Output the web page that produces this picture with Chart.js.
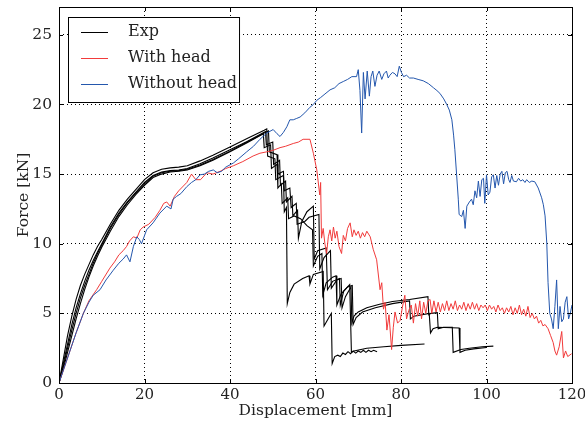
<!DOCTYPE html>
<html>
<head>
<meta charset="utf-8">
<script src="https://cdn.jsdelivr.net/npm/chart.js@4.4.1/dist/chart.umd.min.js"></script>
<style>
  html, body { margin: 0; padding: 0; background: #fff; }
</style>
</head>
<body>
<canvas id="forceChart" width="585" height="426"></canvas>
<script>
// axis ticks
var xTicks = [0, 20, 40, 60, 80, 100, 120];
var yTicks = [0, 5, 10, 15, 20, 25];

// experimental specimens [displacement mm, force kN]
var expA = [[0,0],[1,1.7],[2,3.4],[3,4.8],[4,6.0],[5,7.0],[6,7.8],[7,8.5],[8,9.2],[9,9.8],[10,10.3],[12,11.4],[14,12.4],[16,13.2],[18,13.9],[20,14.6],[22,15.1],[24,15.35],[26,15.45],[28,15.5],[30,15.6],[33,15.95],[36,16.35],[40,16.95],[44,17.55],[48,18.15],[48.6,18.25],
  [48.8,16.3],[50.5,16.1],[50.7,14.6],[52.5,14.9],[52.7,12.3],[53.2,12.6],[53.4,5.7],[54,6.5],[55,7.1],[57,7.5],[58.5,7.7],[58.7,7.1],[59.5,7.8],[61.8,8.0],[62,4.1],[63.3,4.8],[63.7,5.0],[63.9,1.4],[64.5,1.9],[65.2,2.0],[65.8,1.9],[66.4,2.15],[67,2.05],[67.6,2.25],[68.2,2.1],[68.8,2.3],[69.4,2.15],[70,2.3],[70.6,2.2],[71.2,2.35],[71.8,2.2],[72.4,2.35],[73,2.25],[73.6,2.35],[74.4,2.25]];
var expB = [[0,0],[1,1.4],[2,2.8],[3,4.2],[4,5.4],[5,6.4],[6,7.3],[7,8.1],[8,8.8],[9,9.4],[10,10.0],[12,11.2],[14,12.2],[16,13.0],[18,13.7],[20,14.4],[22,14.9],[24,15.15],[26,15.25],[28,15.3],[30,15.4],[33,15.75],[36,16.15],[40,16.75],[44,17.35],[48,18.0],[48.3,18.05],
  [48.5,17.1],[50,17.3],[50.2,15.7],[51.6,16.0],[51.8,14.2],[53,14.5],[53.2,13.0],[54.5,13.4],[54.7,12.0],[55.8,12.4],[56,10.4],[56.8,11.6],[58,12.3],[59.5,12.7],[59.7,8.9],[60.5,9.5],[62.5,9.7],[62.8,6.7],[64,7.3],[65.6,7.5],[65.8,5.6],[66.6,6.6],[68,7.06],[68.4,2.2],[69,2.3],[72,2.5],[76,2.6],[80,2.7],[85.5,2.8]];
var expC = [[0,0],[1,1.2],[2,2.5],[3,3.8],[4,5.0],[5,6.1],[6,7.0],[7,7.8],[8,8.6],[9,9.3],[10,9.9],[12,11.1],[14,12.1],[16,12.95],[18,13.65],[20,14.3],[22,14.85],[24,15.1],[26,15.2],[28,15.25],[30,15.35],[33,15.65],[36,16.05],[40,16.65],[44,17.3],[48,17.95],[49,18.1],
  [49.2,16.6],[51,16.4],[51.2,15.0],[52.5,15.2],[52.7,13.8],[54,14.0],[54.3,12.6],[55.5,12.9],[55.7,11.4],[57.5,11.6],[58.5,11.9],[60.8,12.1],[61,8.2],[62,9.0],[63.5,9.5],[63.7,6.8],[65,7.4],[66,7.5],[66.2,5.4],[67,6.2],[68.3,6.9],[68.5,4.3],[69,4.8],[70,5.1],[72,5.4],[75,5.65],[78,5.85],[82,6.0],[86.3,6.2],[86.5,4.9],[87,5.0],[88.5,5.05],[88.7,3.9],[90,4.0],[92,4.0],[92.2,2.2],[94,2.4],[96,2.5],[99,2.6],[101.6,2.65]];
var expD = [[0,0],[1,1.0],[2,2.2],[3,3.4],[4,4.6],[5,5.7],[6,6.7],[7,7.6],[8,8.4],[9,9.1],[10,9.75],[12,10.9],[14,11.95],[16,12.8],[18,13.55],[20,14.2],[22,14.75],[24,15.0],[26,15.15],[28,15.2],[30,15.3],[33,15.6],[36,16.0],[40,16.6],[44,17.25],[47.8,17.9],
  [48,16.9],[49.5,17.1],[49.7,15.4],[51,15.7],[51.2,14.0],[52,14.3],[52.2,12.9],[53.5,13.3],[53.7,11.8],[55,12.0],[56.5,11.8],[58,11.3],[59.3,11.0],[59.5,8.4],[60.5,9.1],[61.5,9.3],[61.7,6.3],[62.5,7.2],[64,7.6],[64.8,7.7],[65,5.6],[66,6.4],[67.5,6.9],[68.6,7.0],[68.8,4.2],[69.5,4.7],[71,5.1],[74,5.4],[78,5.7],[82,5.9],[82.2,4.6],[83,4.8],[86.6,5.0],[86.9,3.6],[87.5,3.9],[88.5,4.0],[93.6,3.95],[93.8,2.2],[95,2.35],[97,2.45],[100,2.55]];

// simulation with head
var withHead = [[0,0],[2,1.8],[4,3.6],[5.7,5.0],[7,5.9],[8.8,6.7],[10,7.3],[11.9,8.25],[13,8.7],[14,9.2],[15,9.5],[15.8,9.8],[16.5,10.2],[17.4,10.5],[18.2,10.4],[19,11.0],[19.7,11.2],[21,11.4],[22.5,11.9],[23.6,12.4],[24.5,12.9],[25.2,13.0],[26,12.7],[27,13.4],[28,13.8],[29.9,14.4],[31,15.0],[32,14.6],[33.1,14.6],[34.6,15.1],[36,15.0],[37.7,15.2],[39,15.4],[40.8,15.6],[43,15.9],[45.4,16.3],[47,16.5],[48.6,16.6],[50,16.7],[51.7,16.9],[53,17.0],[54.8,17.2],[56,17.3],[57.1,17.5],[58.7,17.5],[59.5,16.5],[60.3,15.3],[61,13.5],[61.2,14.4],[61.4,10.4],[61.8,11.1],[62.2,10.0],[62.6,9.3],[63,10.5],[63.4,11.0],[63.8,10.2],[64.2,11.2],[64.6,10.4],[65,10.9],[65.5,9.8],[66.1,9.3],[66.5,10.6],[67,10.2],[67.5,11.1],[68.1,11.5],[68.6,10.5],[69,11.0],[69.5,10.6],[70,10.9],[70.5,10.4],[71,10.8],[71.5,10.5],[72,10.9],[72.8,10.5],[73.5,9.6],[74.3,8.85],[75.1,6.7],[75.5,7.2],[75.9,5.3],[76.3,5.8],[76.7,3.8],[77.2,4.9],[77.8,2.4],[78.2,4.0],[78.6,5.1],[79.2,4.3],[79.8,4.5],[80.3,5.4],[80.9,6.3],[81.3,4.6],[81.8,5.2],[82.4,5.6],[82.9,4.3],[83.4,5.7],[83.9,4.8],[84.4,5.9],[84.8,4.6],[85.3,5.8],[85.8,5.0],[86.3,5.9],[86.8,6.0],[87.2,5.0],[87.7,5.9],[88.2,5.1],[88.7,5.8],[89.2,5.1],[89.7,5.7],[90.2,5.2],[90.7,5.9],[91.2,5.2],[91.7,5.7],[92.2,5.3],[92.7,5.9],[93.2,5.2],[93.7,5.6],[94.2,5.3],[94.7,5.8],[95.2,5.2],[95.7,5.7],[96.2,5.3],[96.7,5.8],[97.2,5.3],[97.7,5.7],[98.2,5.2],[98.7,5.6],[99.2,5.4],[99.7,5.6],[100.2,5.2],[100.7,5.6],[101.2,5.3],[101.7,5.5],[102.2,5.1],[102.7,5.6],[103.2,5.2],[103.7,5.4],[104.2,5.0],[104.7,5.4],[105.2,5.1],[105.7,5.5],[106.2,4.9],[106.7,5.4],[107.2,5.0],[107.7,5.6],[108.2,4.9],[108.7,5.3],[109.2,4.8],[109.7,5.5],[110.2,4.7],[110.7,5.0],[111.2,4.6],[111.7,4.8],[112.2,4.3],[112.7,4.5],[113.2,4.1],[113.7,4.2],[114.4,3.9],[115,3.4],[115.6,2.9],[116,2.3],[116.4,2.0],[117,2.6],[117.6,3.7],[118,1.8],[118.5,2.3],[119,1.9],[119.9,2.1]];

// simulation without head
var withoutHead = [[0,0],[2,1.8],[4,3.6],[5.7,5.0],[7,5.8],[8,6.3],[9.6,6.7],[11,7.4],[12.7,8.1],[14,8.6],[15,8.9],[15.8,9.2],[16.6,8.7],[17.4,9.8],[18.2,10.5],[18.8,10.3],[19.3,10.0],[20.5,11.0],[22,11.5],[23.6,12.2],[25.2,12.7],[26.2,12.5],[26.7,13.2],[27.5,13.4],[28.5,13.6],[29.9,14.1],[31,14.4],[32,14.6],[33,14.95],[34,15.0],[35,15.2],[36.1,15.3],[37,15.1],[38,15.2],[39,15.5],[40.8,15.8],[42,16.1],[43.9,16.6],[45.5,17.0],[47,17.5],[48.6,17.95],[50.1,18.2],[51,17.9],[51.7,17.7],[52.5,18.0],[53.3,18.4],[54,18.9],[54.8,18.9],[55.6,19.0],[56.4,19.1],[57.5,19.4],[58.7,19.8],[59.5,20.0],[60.3,20.3],[61.2,20.5],[62,20.7],[63.4,21.05],[64.5,21.2],[65.5,21.5],[66.5,21.65],[67.5,21.8],[68.5,22.0],[69.6,22.0],[70.0,22.5],[70.4,21.0],[70.8,17.95],[71.2,22.3],[71.6,20.4],[72.1,22.4],[72.6,20.6],[73.0,22.0],[73.4,22.4],[73.9,21.3],[74.4,22.1],[74.9,22.4],[75.5,21.8],[76.0,22.2],[76.6,22.4],[77.0,21.9],[77.4,22.1],[78.0,22.3],[78.6,22.2],[79.1,22.0],[79.6,22.75],[80.1,22.3],[80.6,22.0],[81.3,22.1],[82.0,21.9],[82.9,21.9],[84.0,21.8],[85.2,21.7],[86.4,21.5],[87.6,21.2],[88.4,21.0],[89.1,20.8],[90.0,20.4],[90.7,20.0],[91.3,19.6],[91.9,18.9],[92.3,17.8],[92.6,16.75],[93.0,15.0],[93.4,13.2],[93.6,12.1],[94.2,11.95],[94.6,12.4],[95.0,11.1],[95.4,12.7],[96.0,13.0],[96.5,13.2],[96.9,12.8],[97.3,13.8],[97.7,13.3],[98.1,14.5],[98.5,13.4],[98.9,14.6],[99.3,14.7],[99.6,12.9],[100.0,14.95],[100.4,13.5],[100.8,13.7],[101.2,14.8],[101.6,14.95],[102.0,14.0],[102.4,14.9],[102.8,14.2],[103.2,15.0],[103.6,15.2],[104.0,14.3],[104.4,15.1],[104.8,15.2],[105.2,14.6],[105.5,14.4],[105.9,14.9],[106.3,14.5],[107.0,14.45],[107.5,14.7],[108.0,14.5],[108.5,14.6],[109.0,14.4],[109.4,14.6],[110.0,14.4],[110.6,14.5],[111.3,14.45],[112.1,14.0],[112.9,13.3],[113.3,12.8],[113.7,12.0],[114.1,10.05],[114.4,7.2],[114.8,5.0],[115.2,4.6],[115.6,3.9],[116.0,5.5],[116.4,7.4],[116.8,3.9],[117.2,5.5],[117.6,4.4],[118.0,4.6],[118.4,5.8],[118.8,6.2],[119.2,4.6],[119.6,5.0],[120,5.6]];

var FONT = 'DejaVu Serif';
var TEXT_COLOR = '#222';

function toPoints(arr) {
    return arr.map(function (p) { return {x: p[0], y: p[1]}; });
}

function lineSet(label, arr, color, width, order, inLegend) {
    return {
        label: label,
        data: toPoints(arr),
        borderColor: color,
        backgroundColor: color,
        borderWidth: width,
        pointRadius: 0,
        tension: 0,
        fill: false,
        order: order,
        inLegend: inLegend
    };
}

var tickSet = function (vals) {
    return function (scale) {
        scale.ticks = vals.map(function (v) { return {value: v}; });
    };
};

// matplotlib-style legend box in the upper left of the plot
var boxLegend = {
    id: 'boxLegend',
    afterDraw: function (chart) {
        var ctx = chart.ctx;
        var area = chart.chartArea;
        var items = chart.data.datasets.filter(function (d) { return d.inLegend; });
        ctx.save();
        ctx.font = '16px "' + FONT + '"';
        var left = area.left + 9, top = area.top + 10;
        var textX = left + 60;
        var widest = 0;
        items.forEach(function (d) { widest = Math.max(widest, ctx.measureText(d.label).width); });
        var w = textX + widest + 2 - left, h = 85;
        ctx.fillStyle = '#fff';
        ctx.fillRect(left, top, w, h);
        ctx.strokeStyle = '#000';
        ctx.lineWidth = 1;
        ctx.strokeRect(left + 0.5, top + 0.5, w, h);
        items.forEach(function (d, i) {
            var y = top + 15 + i * 26;
            ctx.strokeStyle = d.borderColor;
            ctx.beginPath();
            ctx.moveTo(left + 13, y + 0.5);
            ctx.lineTo(left + 40, y + 0.5);
            ctx.stroke();
            ctx.fillStyle = TEXT_COLOR;
            ctx.textBaseline = 'middle';
            ctx.fillText(d.label, textX, y);
        });
        ctx.restore();
    }
};

// full frame with inward tick marks on all sides
var frame = {
    id: 'frame',
    afterDatasetsDraw: function (chart) {
        var ctx = chart.ctx;
        var a = chart.chartArea;
        var xs = chart.scales.x, ys = chart.scales.y;
        ctx.save();
        ctx.strokeStyle = '#000';
        ctx.lineWidth = 1;
        ctx.strokeRect(Math.round(a.left) + 0.5, Math.round(a.top) + 0.5, Math.round(a.right - a.left), Math.round(a.bottom - a.top));
        ctx.beginPath();
        xTicks.forEach(function (v) {
            var px = Math.round(xs.getPixelForValue(v)) + 0.5;
            ctx.moveTo(px, a.bottom); ctx.lineTo(px, a.bottom - 4);
            ctx.moveTo(px, a.top); ctx.lineTo(px, a.top + 4);
        });
        yTicks.forEach(function (v) {
            var py = Math.round(ys.getPixelForValue(v)) + 0.5;
            ctx.moveTo(a.left, py); ctx.lineTo(a.left + 4, py);
            ctx.moveTo(a.right, py); ctx.lineTo(a.right - 4, py);
        });
        ctx.stroke();
        ctx.restore();
    }
};

var whiteBg = {
    id: 'whiteBg',
    beforeDraw: function (chart) {
        var ctx = chart.canvas.getContext('2d');
        ctx.save();
        ctx.globalCompositeOperation = 'destination-over';
        ctx.fillStyle = 'white';
        ctx.fillRect(0, 0, chart.canvas.width, chart.canvas.height);
        ctx.restore();
    }
};

var forceChart = new Chart(document.getElementById('forceChart'), {
    type: 'line',
    data: {
        datasets: [
            lineSet('Exp', expA, '#000000', 1.1, 3, true),
            lineSet('Exp', expB, '#000000', 1.1, 3, false),
            lineSet('Exp', expC, '#000000', 1.1, 3, false),
            lineSet('Exp', expD, '#000000', 1.1, 3, false),
            lineSet('With head', withHead, '#f23b3b', 1, 2, true),
            lineSet('Without head', withoutHead, '#2457ad', 1, 1, true)
        ]
    },
    options: {
        animation: false,
        responsive: false,
        devicePixelRatio: 1,
        layout: { padding: { top: 7, right: 13, left: 0, bottom: 0 } },
        plugins: {
            legend: { display: false },
            tooltip: { enabled: false }
        },
        scales: {
            x: {
                type: 'linear',
                min: 0,
                max: 120,
                afterBuildTicks: tickSet(xTicks),
                afterFit: function (s) { s.height = 43; s.paddingLeft = 0; s.paddingRight = 0; },
                grid: { color: '#000', lineWidth: 1, drawTicks: false },
                border: { display: false, dash: [1, 3] },
                ticks: { color: TEXT_COLOR, padding: 3, maxRotation: 0, font: { family: FONT, size: 15 } },
                title: { display: true, text: 'Displacement [mm]', color: TEXT_COLOR, padding: { top: 0, bottom: 6 }, font: { family: FONT, size: 15.5 } }
            },
            y: {
                type: 'linear',
                min: 0,
                max: 27,
                afterBuildTicks: tickSet(yTicks),
                afterFit: function (s) { s.width = 59; s.paddingTop = 0; s.paddingBottom = 0; },
                grid: { color: '#000', lineWidth: 1, drawTicks: false },
                border: { display: false, dash: [1, 3] },
                ticks: { color: TEXT_COLOR, padding: 7, font: { family: FONT, size: 15.5 } },
                title: { display: true, text: 'Force [kN]', color: TEXT_COLOR, padding: { top: 15, bottom: 0 }, font: { family: FONT, size: 15.5 } }
            }
        }
    },
    plugins: [whiteBg, frame, boxLegend]
});
</script>
</body>
</html>
